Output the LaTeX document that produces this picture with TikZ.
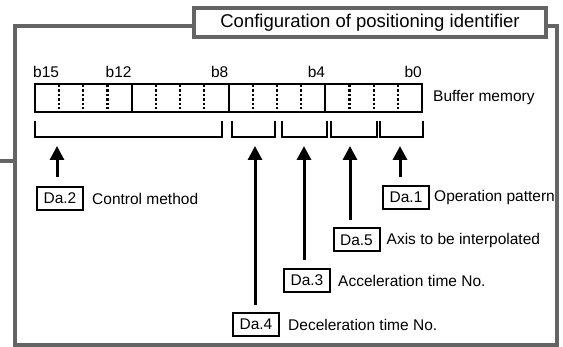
\documentclass[tikz,border=0pt]{standalone}
\usepackage{fontspec}
\setmainfont{Liberation Sans}
\usetikzlibrary{arrows.meta}
\definecolor{frameGray}{HTML}{646464}
\newcommand\fs{\fontsize{15.5}{18}\selectfont}
\newcommand\fst{\fontsize{18.5}{21}\selectfont}
\begin{document}
\begin{tikzpicture}[x=1pt,y=-1pt,
  frm/.style={draw=frameGray,line width=4.5pt},
  reg/.style={line width=2pt},
  dots/.style={line width=2.2pt,dash pattern=on 2.4pt off 2pt},
  brk/.style={line width=2pt},
  arr/.style={line width=3pt,-{Triangle[length=14pt,width=14pt]}},
  dabox/.style={draw,line width=2pt,minimum width=46pt,minimum height=23pt,inner sep=0pt,font=\fs},
  lbl/.style={anchor=west,font=\fs,inner sep=0pt},
  bitlbl/.style={anchor=base east,font=\fs,inner sep=0pt}
]
\useasboundingbox (0,0) rectangle (563,347);
% outer frame
\draw[frm] (15,26) rectangle (557,345);
\draw[frm] (0,161) -- (15,161);
\node[draw=frameGray,line width=3.5pt,fill=white,minimum width=352pt,minimum height=29pt,inner sep=0pt,font=\fst] (title) at (370,22.5) {Configuration of positioning identifier};
% register
\def\bw{24.1875}
\draw[reg] (35,84) rectangle (422,112);
\foreach \i in {4,8,12} \draw[reg] (35+\i*\bw,84) -- (35+\i*\bw,112);
\foreach \i in {1,2,3,5,6,7,9,10,11,13,14,15} \draw[dots] (35+\i*\bw,85) -- (35+\i*\bw,111);
\node[anchor=base west,font=\fs,inner sep=0pt] (b15) at (33,78) {b15};
\node[bitlbl] (b12) at (35+4*\bw,78) {b12};
\node[bitlbl] (b8) at (35+8*\bw,78) {b8};
\node[bitlbl] (b4) at (35+12*\bw,78) {b4};
\node[bitlbl] (b0) at (422,78) {b0};
\node[lbl] (buf) at (433,98) {Buffer memory};
% brackets
\draw[brk] (35,121) -- (35,137) -- (222,137) -- (222,121);
\draw[brk] (232,121) -- (232,137) -- (275,137) -- (275,121);
\draw[brk] (282,121) -- (282,137) -- (327,137) -- (327,121);
\draw[brk] (331,121) -- (331,137) -- (377,137) -- (377,121);
\draw[brk] (380,121) -- (380,137) -- (423,137) -- (423,121);
% arrow tips
\coordinate (t2) at (57,146);
\coordinate (t4) at (255,146);
\coordinate (t3) at (304,146);
\coordinate (t5) at (350,146);
\coordinate (t1) at (400,146);
% Da boxes
\node[dabox] (da2) at (60,198.5) {Da.2};
\node[lbl] (l2) at ([xshift=8pt]da2.east) {Control method};
\node[dabox] (da1) at (406,197.5) {Da.1};
\node[lbl] (l1) at ([xshift=4pt]da1.east) {Operation pattern};
\node[dabox] (da5) at (356.5,240) {Da.5};
\node[lbl] (l5) at ([xshift=6pt]da5.east) {Axis to be interpolated};
\node[dabox] (da3) at (307,280.5) {Da.3};
\node[lbl] (l3) at ([xshift=7pt]da3.east) {Acceleration time No.};
\node[dabox] (da4) at (256,324.5) {Da.4};
\node[lbl] (l4) at ([xshift=8pt]da4.east) {Deceleration time No.};
% arrows
\draw[arr] ([yshift=9pt]t2 |- da2.north) -- (t2);
\draw[arr] ([yshift=8pt]t1 |- da1.north) -- (t1);
\draw[arr] ([yshift=7pt]t5 |- da5.north) -- (t5);
\draw[arr] ([yshift=8pt]t3 |- da3.north) -- (t3);
\draw[arr] ([yshift=7pt]t4 |- da4.north) -- (t4);
\end{tikzpicture}
\end{document}
